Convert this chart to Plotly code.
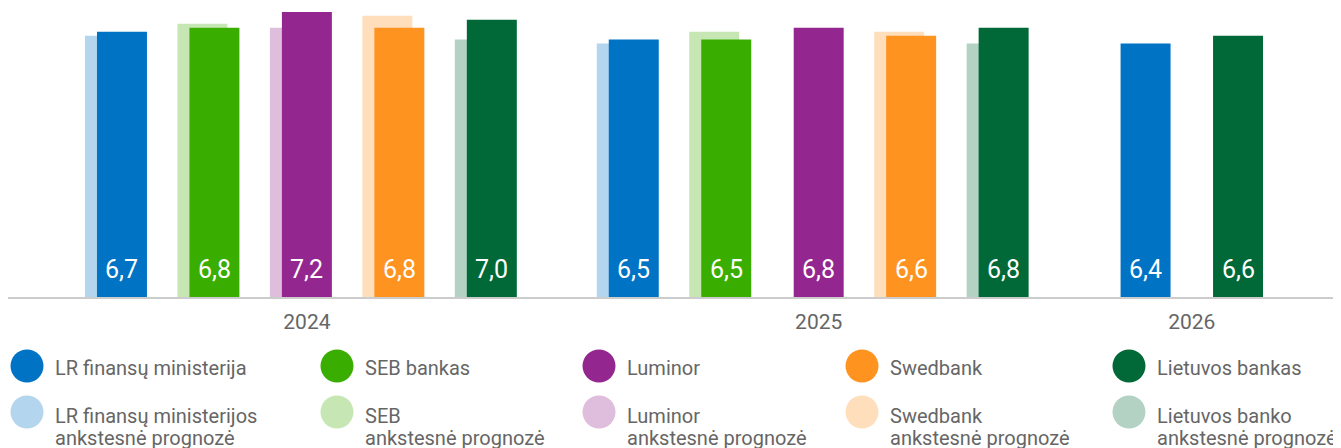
import plotly.graph_objects as go

# data
years = ['2024', '2025', '2026']

lr_fin = [6.7, 6.5, 6.4]
seb = [6.8, 6.5, None]
luminor = [7.2, 6.8, None]
swedbank = [6.8, 6.6, None]
lietuvos = [7.0, 6.8, 6.6]

lr_fin_prev = [6.6, 6.4, None]
seb_prev = [6.9, 6.7, None]
luminor_prev = [6.8, None, None]
swedbank_prev = [7.1, 6.7, None]
lietuvos_prev = [6.5, 6.4, None]

names = ['LR finansų ministerija', 'SEB bankas', 'Luminor', 'Swedbank', 'Lietuvos bankas']
prev_names = ['LR finansų ministerijos<br>ankstesnė prognozė', 'SEB<br>ankstesnė prognozė',
              'Luminor<br>ankstesnė prognozė', 'Swedbank<br>ankstesnė prognozė',
              'Lietuvos banko<br>ankstesnė prognozė']
colors = ['#0073c5', '#3aae00', '#93278f', '#ff9320', '#006937']
light_colors = ['#b3d5ee', '#c6e6b4', '#dfbddc', '#ffdebb', '#b3d2c3']

current = [lr_fin, seb, luminor, swedbank, lietuvos]
previous = [lr_fin_prev, seb_prev, luminor_prev, swedbank_prev, lietuvos_prev]

# page body has an 8px margin, so the figure is a bit smaller than the window
OFF = 8
W, H = 1341 - OFF, 448 - OFF
BASE_Y = 297          # axis line position in the window
PLOT_H = BASE_Y - OFF
SLOT_PX = 92.5
BAR_W = 50 / SLOT_PX
PREV_SHIFT = 12 / SLOT_PX
GROUP_GAP = 142 / SLOT_PX - 1

# slot positions: every year gets only the series that have a value
positions = [[None] * len(years) for _ in current]
group_centers = []
counter = 0.0
for yi in range(len(years)):
    slots = []
    for si, vals in enumerate(current):
        if vals[yi] is not None:
            positions[si][yi] = counter
            slots.append(counter)
            counter += 1
    group_centers.append(sum(slots) / len(slots))
    counter += GROUP_GAP
last_pos = counter - GROUP_GAP - 1

fig = go.Figure()

for si in range(len(current)):
    xs = [positions[si][yi] - PREV_SHIFT for yi in range(len(years))
          if previous[si][yi] is not None]
    ys = [v for v in previous[si] if v is not None]
    fig.add_trace(go.Bar(x=xs, y=ys, width=BAR_W, marker_color=light_colors[si],
                         marker_line_width=0, hoverinfo='skip', name=prev_names[si]))

annotations = []
for si in range(len(current)):
    xs = [positions[si][yi] for yi in range(len(years)) if current[si][yi] is not None]
    ys = [v for v in current[si] if v is not None]
    fig.add_trace(go.Bar(x=xs, y=ys, width=BAR_W, marker_color=colors[si],
                         marker_line_width=0, name=names[si]))
    for x, y in zip(xs, ys):
        annotations.append(dict(x=x, y=0, xref='x', yref='y', text=f'{y:.1f}'.replace('.', ','),
                                showarrow=False, yanchor='bottom', yshift=11,
                                font=dict(family='Roboto', size=25, color='white')))

# custom legend: big circles + text (positions in window pixels)
col_circle = [27, 337, 599, 862, 1129]


def py(y):
    return (PLOT_H - (y - OFF)) / PLOT_H


def px(x):
    return (x - OFF) / W


legend_font = dict(family='Roboto', size=20, color='#666666')
shapes = []
for i in range(5):
    for cy, col in [(366, colors[i]), (412, light_colors[i])]:
        shapes.append(dict(type='circle', xref='paper', yref='paper',
                           xsizemode='pixel', ysizemode='pixel',
                           xanchor=px(col_circle[i]), yanchor=py(cy),
                           x0=-16.5, x1=16.5, y0=-16.5, y1=16.5,
                           fillcolor=col, line_width=0))
    lines = [(368, names[i])] + list(zip([416, 438], prev_names[i].split('<br>')))
    for ty, label in lines:
        annotations.append(dict(x=px(col_circle[i] + 26), y=py(ty), xref='paper', yref='paper',
                                text=label, showarrow=False, xanchor='left', yanchor='middle',
                                align='left', font=legend_font))

fig.update_layout(
    width=W, height=H,
    margin=dict(l=0, r=0, t=0, b=H - PLOT_H),
    barmode='overlay',
    showlegend=False,
    plot_bgcolor='white',
    paper_bgcolor='white',
    font=dict(family='Roboto'),
    shapes=shapes,
    annotations=annotations,
)
fig.update_xaxes(
    range=[-(122 - OFF) / SLOT_PX, last_pos + (1341 - 1238) / SLOT_PX],
    tickvals=group_centers, ticktext=years,
    tickfont=dict(family='Roboto', size=21, color='#666666'),
    ticklabelstandoff=5,
    showgrid=False, zeroline=False, ticks='',
    showline=True, linecolor='#cccccc', linewidth=2,
)
fig.update_yaxes(range=[0, 7.5 * PLOT_H / BASE_Y], visible=False)

fig.write_html("out.html")
